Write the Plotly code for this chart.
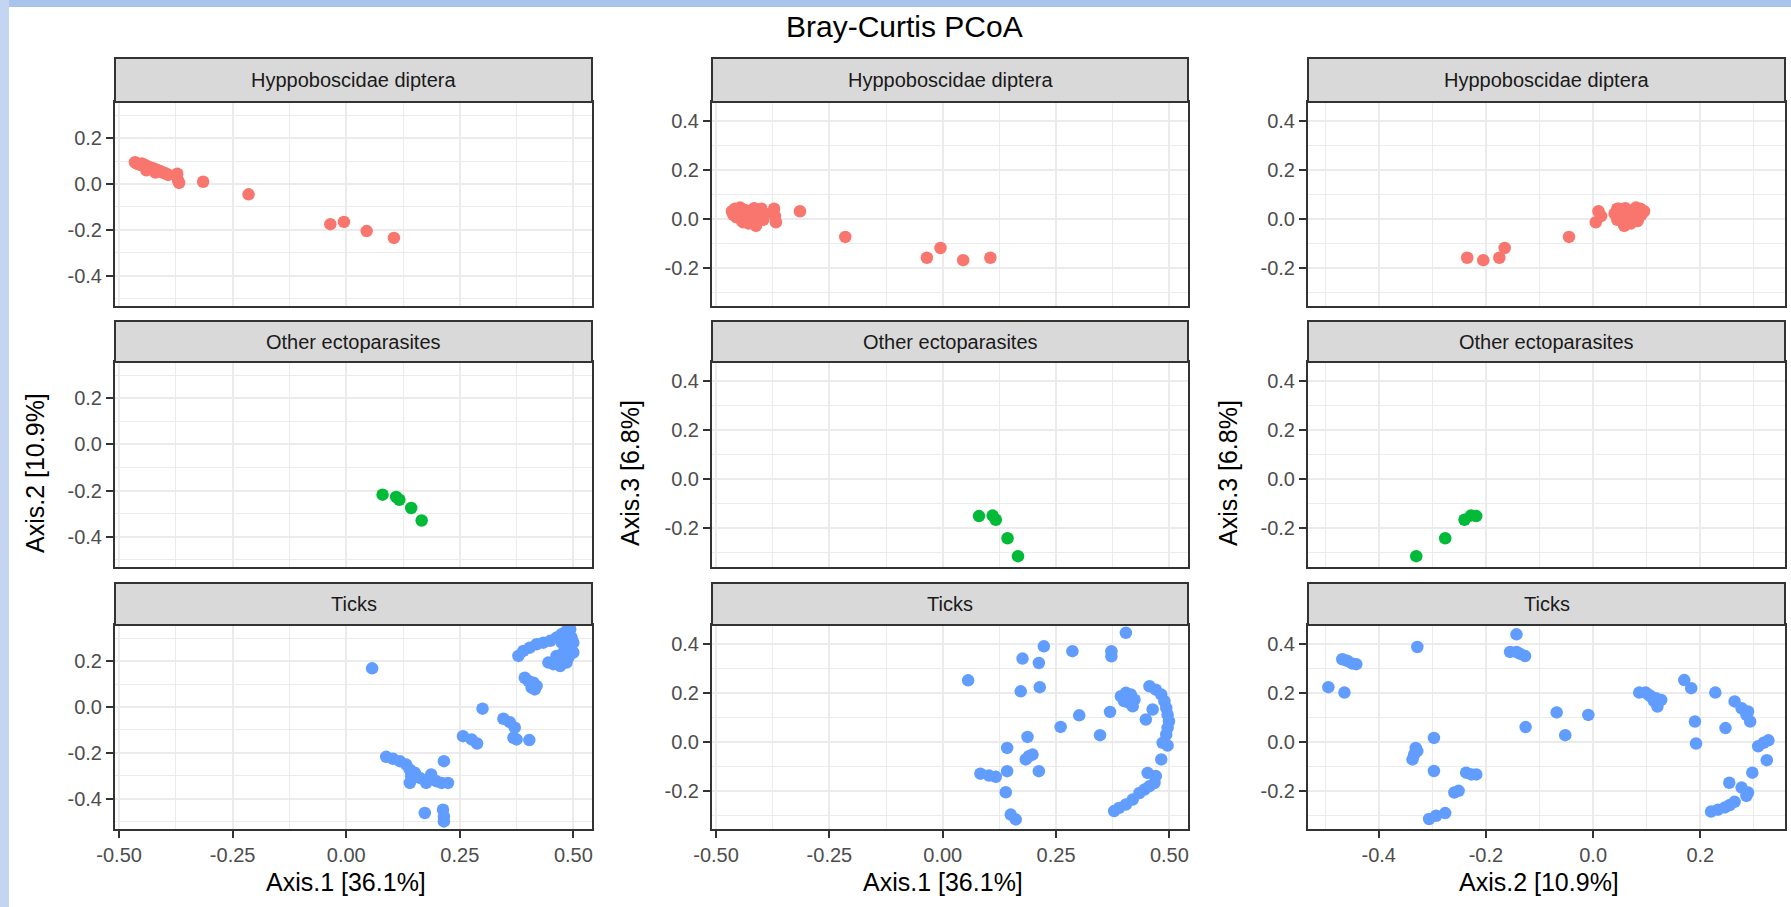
import plotly.graph_objects as go

W, H = 1791, 907

# ---------------- data ----------------
groups = ["Hyppoboscidae diptera", "Other ectoparasites", "Ticks"]
group_colors = ["#F8766D", "#00BA38", "#619CFF"]

# Hyppoboscidae diptera samples: coordinates on the three PCoA axes
hyppo_axis1 = [-0.465, -0.462, -0.458, -0.455, -0.450, -0.447, -0.443, -0.440, -0.436, -0.432,
               -0.428, -0.425, -0.420, -0.416, -0.412, -0.408, -0.404, -0.400, -0.396, -0.392,
               -0.440, -0.420, -0.372, -0.370, -0.368, -0.315, -0.215, -0.035, -0.005, 0.045, 0.105]
hyppo_axis2 = [0.095, 0.090, 0.088, 0.085, 0.090, 0.080, 0.083, 0.078, 0.075, 0.072,
               0.070, 0.068, 0.065, 0.060, 0.058, 0.055, 0.050, 0.048, 0.045, 0.040,
               0.060, 0.050, 0.045, 0.015, 0.005, 0.010, -0.045, -0.175, -0.165, -0.205, -0.235]
hyppo_axis3 = [0.030, 0.015, 0.040, 0.005, 0.025, 0.045, -0.010, 0.020, 0.035, 0.000,
               -0.020, 0.030, 0.015, 0.042, -0.030, 0.010, 0.025, 0.040, -0.005, 0.020,
               -0.015, 0.005, 0.040, 0.010, -0.015, 0.030, -0.075, -0.160, -0.120, -0.170, -0.160]

# Other ectoparasites samples
other_axis1 = [0.080, 0.110, 0.117, 0.143, 0.166]
other_axis2 = [-0.218, -0.228, -0.240, -0.276, -0.330]
other_axis3 = [-0.150, -0.148, -0.165, -0.240, -0.313]

# Ticks: Axis.1 vs Axis.2
ticks_p1_x = [0.057,
              0.379, 0.390, 0.404, 0.419, 0.434, 0.449, 0.463, 0.474, 0.485, 0.493, 0.496, 0.500,
              0.489, 0.500, 0.489, 0.485, 0.471, 0.456, 0.445, 0.463, 0.478, 0.485, 0.474,
              0.393, 0.401, 0.412, 0.419, 0.408, 0.415,
              0.300,
              0.346, 0.360, 0.371, 0.368, 0.375, 0.403,
              0.257, 0.276, 0.288,
              0.088, 0.103, 0.118, 0.132, 0.140, 0.151, 0.143, 0.140, 0.162, 0.176, 0.187, 0.199,
              0.210, 0.224, 0.215, 0.173, 0.213, 0.215, 0.215]
ticks_p1_y = [0.169,
              0.223, 0.245, 0.259, 0.274, 0.281, 0.289, 0.303, 0.318, 0.332, 0.340, 0.303, 0.281,
              0.259, 0.238, 0.216, 0.194, 0.179, 0.187, 0.194, 0.223, 0.238, 0.274, 0.281,
              0.128, 0.114, 0.106, 0.092, 0.085, 0.077,
              -0.007,
              -0.051, -0.066, -0.090, -0.134, -0.141, -0.144,
              -0.127, -0.141, -0.159,
              -0.217, -0.226, -0.236, -0.251, -0.273, -0.287, -0.302, -0.331, -0.309, -0.331, -0.294, -0.324,
              -0.331, -0.331, -0.236, -0.462, -0.448, -0.477, -0.499]

# Ticks: Axis.1 vs Axis.3
ticks_p2_x = [0.056, 0.223, 0.176, 0.212, 0.172, 0.214, 0.286, 0.372, 0.372, 0.404,
              0.301, 0.260, 0.369, 0.347,
              0.393, 0.404, 0.415, 0.423, 0.412, 0.400, 0.419,
              0.456, 0.470, 0.482, 0.489, 0.493, 0.496, 0.499, 0.496, 0.493, 0.485, 0.496, 0.482,
              0.448, 0.463,
              0.187, 0.142, 0.183, 0.198, 0.190, 0.142, 0.212, 0.083, 0.102, 0.117, 0.139, 0.150, 0.161,
              0.378, 0.389, 0.404, 0.419, 0.434, 0.445, 0.456, 0.467, 0.470, 0.452]
ticks_p2_y = [0.250, 0.389, 0.339, 0.321, 0.205, 0.222, 0.369, 0.369, 0.348, 0.444,
              0.107, 0.060, 0.121, 0.026,
              0.185, 0.199, 0.192, 0.171, 0.158, 0.165, 0.144,
              0.226, 0.212, 0.192, 0.165, 0.137, 0.110, 0.083, 0.056, 0.029, -0.005, -0.016, -0.073,
              0.090, 0.131,
              0.019, -0.026, -0.073, -0.053, -0.060, -0.121, -0.121, -0.131, -0.139, -0.144, -0.207, -0.298, -0.318,
              -0.284, -0.271, -0.257, -0.237, -0.210, -0.196, -0.182, -0.169, -0.141, -0.128]

# Ticks: Axis.2 vs Axis.3
ticks_p3_x = [-0.494, -0.464, -0.468, -0.459, -0.450, -0.442, -0.328, -0.143, -0.155, -0.143,
              -0.137, -0.127, -0.126, -0.068, -0.052, -0.009,
              0.086, 0.098, 0.108, 0.114, 0.120, 0.127, 0.117, 0.104,
              0.170, 0.183, 0.190, 0.192, 0.228,
              0.264, 0.277, 0.286, 0.293, 0.289, 0.247,
              0.308, 0.318, 0.327, 0.324, 0.297, 0.254, 0.277, 0.289, 0.286, 0.264, 0.220, 0.233, 0.246, 0.255,
              -0.297, -0.331, -0.334, -0.337, -0.328, -0.297, -0.237, -0.227, -0.218, -0.259, -0.251,
              -0.306, -0.293, -0.276]
ticks_p3_y = [0.222, 0.200, 0.336, 0.330, 0.319, 0.316, 0.386, 0.438, 0.366, 0.366,
              0.359, 0.349, 0.059, 0.119, 0.026, 0.109,
              0.200, 0.200, 0.184, 0.164, 0.143, 0.170, 0.177, 0.190,
              0.251, 0.218, 0.082, -0.008, 0.200,
              0.164, 0.136, 0.109, 0.082, 0.123, 0.055,
              -0.019, -0.005, 0.005, -0.076, -0.127, -0.168, -0.188, -0.208, -0.222, -0.246, -0.286, -0.278, -0.269, -0.259,
              0.015, -0.026, -0.053, -0.073, -0.039, -0.120, -0.127, -0.134, -0.134, -0.208, -0.201,
              -0.316, -0.303, -0.292]

x_titles = ["Axis.1 [36.1%]", "Axis.1 [36.1%]", "Axis.2 [10.9%]"]
y_titles = ["Axis.2 [10.9%]", "Axis.3 [6.8%]", "Axis.3 [6.8%]"]
plot_title = "Bray-Curtis PCoA"

x_tickvals = [[-0.5, -0.25, 0.0, 0.25, 0.5], [-0.5, -0.25, 0.0, 0.25, 0.5], [-0.4, -0.2, 0.0, 0.2]]
x_ticktext = [["-0.50", "-0.25", "0.00", "0.25", "0.50"], ["-0.50", "-0.25", "0.00", "0.25", "0.50"],
              ["-0.4", "-0.2", "0.0", "0.2"]]
x_minor = [[-0.375, -0.125, 0.125, 0.375], [-0.375, -0.125, 0.125, 0.375], [-0.5, -0.3, -0.1, 0.1, 0.3]]
y_tickvals = [[-0.4, -0.2, 0.0, 0.2], [-0.2, 0.0, 0.2, 0.4], [-0.2, 0.0, 0.2, 0.4]]
y_ticktext = [["-0.4", "-0.2", "0.0", "0.2"], ["-0.2", "0.0", "0.2", "0.4"], ["-0.2", "0.0", "0.2", "0.4"]]
y_minor = [[-0.5, -0.3, -0.1, 0.1, 0.3], [-0.3, -0.1, 0.1, 0.3], [-0.3, -0.1, 0.1, 0.3]]

# ---------------- layout geometry (pixels) ----------------
col_px = [(115, 592), (712, 1188), (1308, 1785)]
row_px = [(102, 306), (362, 567), (625, 829)]
strip_px = [(58, 102), (321, 362), (583, 625)]
x_ranges = [[-0.509, 0.541], [-0.509, 0.541], [-0.532, 0.358]]
y_ranges = [[-0.532, 0.358], [-0.357, 0.476], [-0.357, 0.476]]


def fx(px):
    return px / W


def fy(py):
    return 1 - py / H


FONT = "Liberation Sans, Arial, Helvetica, sans-serif"

panel_data = {
    (0, 0): (hyppo_axis1, hyppo_axis2), (0, 1): (hyppo_axis1, hyppo_axis3), (0, 2): (hyppo_axis2, hyppo_axis3),
    (1, 0): (other_axis1, other_axis2), (1, 1): (other_axis1, other_axis3), (1, 2): (other_axis2, other_axis3),
    (2, 0): (ticks_p1_x, ticks_p1_y), (2, 1): (ticks_p2_x, ticks_p2_y), (2, 2): (ticks_p3_x, ticks_p3_y),
}

fig = go.Figure()
layout = {}
shapes = []
annotations = []

for r in range(3):
    for c in range(3):
        k = r * 3 + c + 1
        xa = "x" if k == 1 else f"x{k}"
        ya = "y" if k == 1 else f"y{k}"
        xs, ys = panel_data[(r, c)]
        fig.add_trace(go.Scatter(
            x=xs, y=ys, mode="markers", xaxis=xa, yaxis=ya,
            marker=dict(color=group_colors[r], size=12.5, line=dict(width=0)),
            name=groups[r], showlegend=False, hoverinfo="x+y+name"))
        common = dict(showgrid=True, gridcolor="#EBEBEB", gridwidth=2, zeroline=False,
                      showline=True, mirror=True, linecolor="#333333", linewidth=2,
                      tickcolor="#333333", tickwidth=2, ticklen=7, automargin=False,
                      tickfont=dict(family=FONT, size=20, color="#4D4D4D"), tickmode="array")
        layout["xaxis" if k == 1 else f"xaxis{k}"] = dict(
            common, domain=[fx(col_px[c][0]), fx(col_px[c][1])], range=x_ranges[c],
            anchor=ya, tickvals=x_tickvals[c], ticktext=x_ticktext[c],
            ticks="outside" if r == 2 else "", showticklabels=(r == 2),
            minor=dict(tickvals=x_minor[c], showgrid=True, gridcolor="#EBEBEB", gridwidth=1, ticks=""))
        layout["yaxis" if k == 1 else f"yaxis{k}"] = dict(
            common, domain=[fy(row_px[r][1]), fy(row_px[r][0])], range=y_ranges[c],
            anchor=xa, tickvals=y_tickvals[c], ticktext=y_ticktext[c], ticks="outside",
            minor=dict(tickvals=y_minor[c], showgrid=True, gridcolor="#EBEBEB", gridwidth=1, ticks=""))
        # facet strip
        shapes.append(dict(type="rect", xref="paper", yref="paper",
                           x0=fx(col_px[c][0]), x1=fx(col_px[c][1]),
                           y0=fy(strip_px[r][1]), y1=fy(strip_px[r][0]),
                           fillcolor="#D9D9D9", line=dict(color="#333333", width=2)))
        annotations.append(dict(text=groups[r], xref="paper", yref="paper",
                                x=fx((col_px[c][0] + col_px[c][1]) / 2),
                                y=fy((strip_px[r][0] + strip_px[r][1]) / 2),
                                showarrow=False, xanchor="center", yanchor="middle",
                                font=dict(family=FONT, size=20, color="#1A1A1A")))

# decorative light-blue frame bands
shapes.append(dict(type="rect", xref="paper", yref="paper", x0=0, x1=1, y0=fy(7), y1=1,
                   fillcolor="#A9C4EA", line=dict(width=0), layer="below"))
shapes.append(dict(type="rect", xref="paper", yref="paper", x0=0, x1=fx(9), y0=0, y1=1,
                   fillcolor="#C3D5F1", line=dict(width=0), layer="below"))

# axis titles
x_title_px = [346, 943, 1539]
y_title_px = [35, 630, 1228]
for c in range(3):
    annotations.append(dict(text=x_titles[c], xref="paper", yref="paper",
                            x=fx(x_title_px[c]), y=fy(882), showarrow=False,
                            xanchor="center", yanchor="middle",
                            font=dict(family=FONT, size=25, color="#000000")))
    annotations.append(dict(text=y_titles[c], xref="paper", yref="paper",
                            x=fx(y_title_px[c]), y=fy(473), showarrow=False, textangle=-90,
                            xanchor="center", yanchor="middle",
                            font=dict(family=FONT, size=25, color="#000000")))

annotations.append(dict(text=plot_title, xref="paper", yref="paper", x=fx(904), y=fy(26),
                        showarrow=False, xanchor="center", yanchor="middle",
                        font=dict(family=FONT, size=30, color="#000000")))

fig.update_layout(width=W, height=H, margin=dict(l=0, r=0, t=0, b=0, autoexpand=False),
                  paper_bgcolor="white", plot_bgcolor="white",
                  shapes=shapes, annotations=annotations, showlegend=False,
                  font=dict(family=FONT), **layout)

fig.write_html("out.html")
